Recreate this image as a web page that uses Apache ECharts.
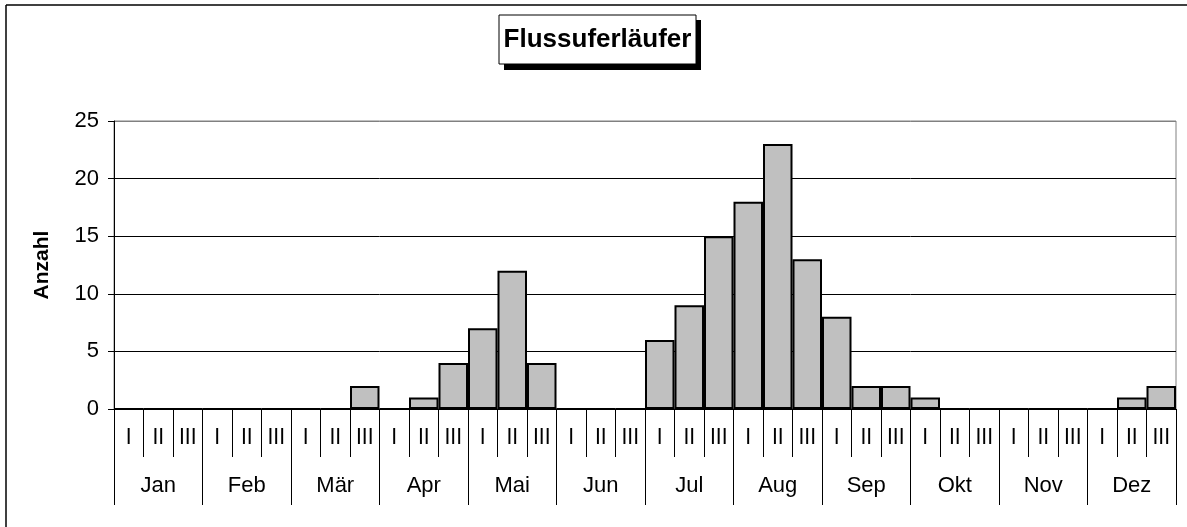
<!DOCTYPE html>
<html>
<head>
<meta charset="utf-8">
<script src="https://cdn.jsdelivr.net/npm/echarts@6/dist/echarts.min.js"></script>
<style>
  html, body { margin: 0; padding: 0; background: #fff; }
  #chart { width: 1187px; height: 527px; }
</style>
</head>
<body>
<div id="chart"></div>
<script>
var decades = ['I', 'II', 'III'];
var months = ['Jan', 'Feb', 'Mär', 'Apr', 'Mai', 'Jun', 'Jul', 'Aug', 'Sep', 'Okt', 'Nov', 'Dez'];
var counts = [
    0, 0, 0,     // Jan
    0, 0, 0,     // Feb
    0, 0, 2,     // Mär
    0, 1, 4,     // Apr
    7, 12, 4,    // Mai
    0, 0, 0,     // Jun
    6, 9, 15,    // Jul
    18, 23, 13,  // Aug
    8, 2, 2,     // Sep
    1, 0, 0,     // Okt
    0, 0, 0,     // Nov
    0, 1, 2      // Dez
];
var yTicks = [0, 5, 10, 15, 20, 25];

var decadeCats = [];
months.forEach(function (m) {
    decades.forEach(function (d) { decadeCats.push(d); });
});

var font = '"Liberation Sans", Arial, sans-serif';

var myChart = echarts.init(document.getElementById('chart'));
var option = {
    animation: false,
    backgroundColor: '#fff',
    textStyle: { fontFamily: font, color: '#000' },
    grid: {
        left: 114, top: 121, width: 1062, height: 288,
        show: true, borderColor: '#808080', borderWidth: 1, backgroundColor: 'transparent'
    },
    graphic: [
        // Rahmen oben / links
        { type: 'line', shape: { x1: 6, y1: 5, x2: 1187, y2: 5 }, style: { stroke: '#000', lineWidth: 1.5 } },
        { type: 'line', shape: { x1: 6, y1: 5, x2: 6, y2: 527 }, style: { stroke: '#000', lineWidth: 1.5 } },
        // Titelbox mit Schatten
        { type: 'rect', shape: { x: 504, y: 20, width: 197, height: 50 }, style: { fill: '#000' } },
        { type: 'rect', shape: { x: 499, y: 15, width: 197, height: 49 }, style: { fill: '#fff', stroke: '#000', lineWidth: 1 } },
        {
            type: 'text', x: 597.5, y: 40,
            style: {
                text: 'Flussuferläufer', fill: '#000', align: 'center', verticalAlign: 'middle',
                font: 'bold 26px ' + font
            }
        }
    ],
    xAxis: [
        {
            type: 'category',
            data: decadeCats,
            position: 'bottom',
            axisLine: { show: true, onZero: false, lineStyle: { color: '#000', width: 1 } },
            axisTick: { show: true, length: 48, interval: 0, lineStyle: { color: '#000' } },
            axisLabel: {
                interval: 0, margin: 18, color: '#000', fontSize: 22,
                fontFamily: '"Liberation Sans Narrow", "DejaVu Sans Condensed", ' + font
            },
            splitLine: { show: false }
        },
        {
            type: 'category',
            data: months,
            position: 'bottom',
            axisLine: { show: false },
            axisTick: { show: true, length: 96, interval: 0, lineStyle: { color: '#000' } },
            axisLabel: { interval: 0, margin: 66, color: '#000', fontSize: 22, fontFamily: font },
            splitLine: { show: false }
        }
    ],
    yAxis: {
        type: 'value',
        min: yTicks[0],
        max: yTicks[yTicks.length - 1],
        interval: 5,
        name: 'Anzahl',
        nameLocation: 'middle',
        nameGap: 61,
        nameRotate: 90,
        nameTextStyle: { fontWeight: 'bold', fontSize: 21, color: '#000', fontFamily: font },
        axisLine: { show: true, lineStyle: { color: '#000', width: 1 } },
        axisTick: { show: true, length: 6, lineStyle: { color: '#000' } },
        axisLabel: { margin: 15, fontSize: 22, color: '#000', fontFamily: font },
        splitLine: {
            show: true,
            lineStyle: { color: ['#000', '#000', '#000', '#000', '#000', '#808080'], width: 1 }
        }
    },
    series: [{
        type: 'bar',
        xAxisIndex: 0,
        data: counts,
        barCategoryGap: '0%',
        itemStyle: { color: '#c0c0c0', borderColor: '#000', borderWidth: 2 },
        z: 3
    }]
};
myChart.setOption(option);
</script>
</body>
</html>
